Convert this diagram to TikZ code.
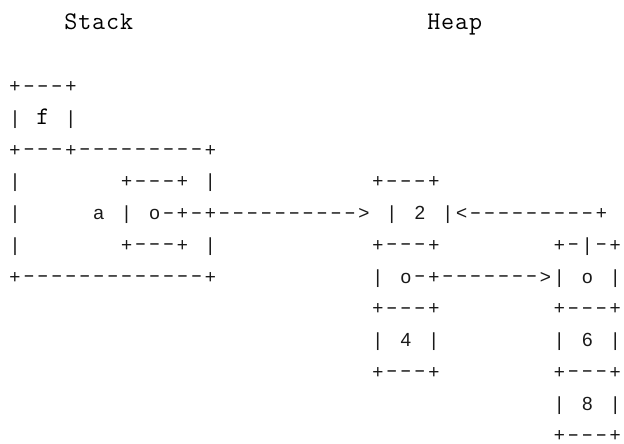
\documentclass[tikz,border=0pt]{standalone}
\usepackage{graphicx}
\usepackage{fontspec}
\newfontfamily\artsans{Liberation Sans}
\newcount\artcol
\makeatletter
\def\artrow#1#2#3#4{\artcol=#3\relax\def\art@st{#1}\def\art@r{#2}\art@scan#4\@nil}
\def\art@scan#1{\ifx#1\@nil\else\if#1.\else\art@put{#1}\fi\advance\artcol by 1 \expandafter\art@scan\fi}
\def\art@put#1{%
  \def\art@ch{#1}\def\art@dy{0}%
  \if#1-\def\art@ch{\scalebox{1.8}[1]{-}}\def\art@dy{1.5}\fi
  \node[\art@st] (g\art@r-\the\artcol) at ({15+13.96*\the\artcol},{29+31.75*\art@r-\art@dy}) {\art@ch};}
\makeatother
\tikzset{
  sg/.style={inner sep=0pt, outer sep=0pt, anchor=base, font=\artsans\fontsize{14.25}{16}\selectfont, text=black!90},
  tg/.style={inner sep=0pt, outer sep=0pt, anchor=base, font=\ttfamily\fontsize{19}{20}\selectfont, text=black}
}
\begin{document}
\begin{tikzpicture}[x=0.75pt,y=-0.75pt]
\useasboundingbox (0,0) rectangle (624,443);
% titles
\artrow{tg}{0}{4}{Stack}
\artrow{tg}{0}{30}{Heap}
% stack frame
\artrow{sg}{2}{0}{+---+}
\artrow{sg}{3}{0}{|...|}
\artrow{tg}{3}{2}{f}
\artrow{sg}{4}{0}{+---+---------+}
\artrow{sg}{5}{0}{|.......+---+.|}
\artrow{sg}{5}{26}{+---+}
\artrow{sg}{6}{0}{|.....a.|.o-+-+---------->.|.2.|<---------+}
\artrow{sg}{7}{0}{|.......+---+.|}
\artrow{sg}{7}{26}{+---+........+-|-+}
\artrow{sg}{8}{0}{+-------------+}
\artrow{sg}{8}{26}{|.o-+------->|.o.|}
\artrow{sg}{9}{26}{+---+........+---+}
\artrow{sg}{10}{26}{|.4.|........|.6.|}
\artrow{sg}{11}{26}{+---+........+---+}
\artrow{sg}{12}{39}{|.8.|}
\artrow{sg}{13}{39}{+---+}
\end{tikzpicture}
\end{document}
